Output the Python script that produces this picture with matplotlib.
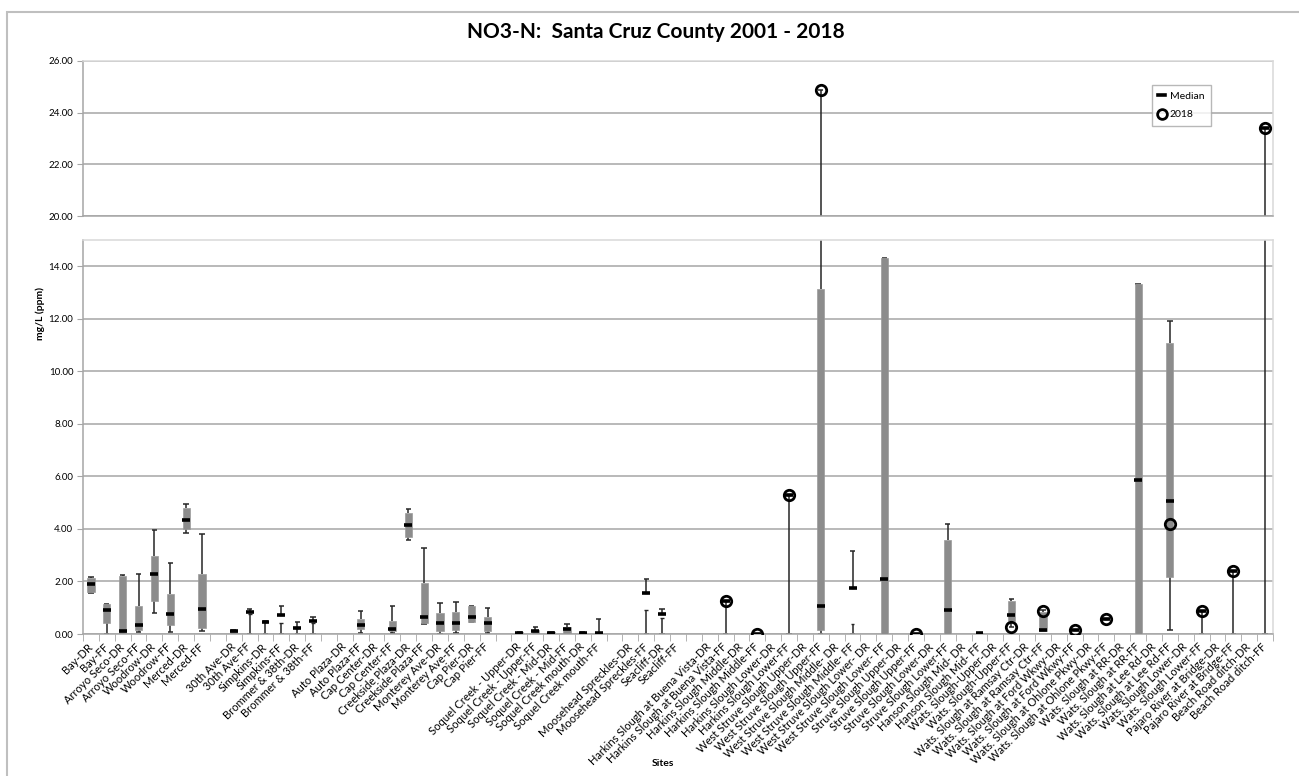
import matplotlib
matplotlib.use('Agg')
import matplotlib.pyplot as plt
import numpy as np
from matplotlib.patches import Rectangle
from matplotlib.lines import Line2D
from matplotlib.ticker import FormatStrFormatter

plt.rcParams['font.family'] = ['Lato', 'DejaVu Sans']

nan = np.nan

sites = ['Bay-DR', 'Bay-FF', 'Arroyo Seco-DR', 'Arroyo Seco-FF', 'Woodrow-DR', 'Woodrow-FF',
         'Merced-DR', 'Merced-FF', '', '30th Ave-DR', '30th Ave-FF', 'Simpkins-DR', 'Simpkins-FF',
         'Brommer & 38th-DR', 'Brommer & 38th-FF', '', 'Auto Plaza-DR', 'Auto Plaza-FF',
         'Cap Center-DR', 'Cap Center-FF', 'Creekside Plaza-DR', 'Creekside Plaza-FF',
         'Monterey Ave-DR', 'Monterey Ave-FF', 'Cap Pier-DR', 'Cap Pier-FF', '',
         'Soquel Creek - Upper-DR', 'Soquel Creek - Upper-FF', 'Soquel Creek - Mid-DR',
         'Soquel Creek - Mid-FF', 'Soquel Creek mouth-DR', 'Soquel Creek mouth-FF', '',
         'Moosehead Spreckles-DR', 'Moosehead Spreckles-FF', 'Seacliff-DR', 'Seacliff-FF', '',
         'Harkins Slough at Buena Vista-DR', 'Harkins Slough at Buena Vista-FF',
         'Harkins Slough Middle-DR', 'Harkins Slough Middle-FF', 'Harkins Slough Lower-DR',
         'Harkins Slough Lower-FF', 'West Struve Slough Upper-DR', 'West Struve Slough Upper-FF',
         'West Struve Slough Middle- DR', 'West Struve Slough Middle- FF',
         'West Struve Slough Lower- DR', 'West Struve Slough Lower- FF',
         'Struve Slough Upper-DR', 'Struve Slough Upper-FF', 'Struve Slough Lower-DR',
         'Struve Slough Lower-FF', 'Hanson Slough Mid- DR', 'Hanson Slough Mid- FF',
         'Wats. Slough-Upper-DR', 'Wats. Slough-Upper-FF', 'Wats. Slough at Ramsay Ctr-DR',
         'Wats. Slough at Ramsay Ctr-FF', 'Wats. Slough at Ford Wkwy-DR',
         'Wats. Slough at Ford Wkwy-FF', 'Wats. Slough at Ohlone Pkwy-DR',
         'Wats. Slough at Ohlone Pkwy-FF', 'Wats. Slough at RR-DR', 'Wats. Slough at RR-FF',
         'Wats. Slough at Lee Rd-DR', 'Wats. Slough at Lee Rd-FF', 'Wats. Slough Lower-DR',
         'Wats. Slough Lower-FF', 'Pajaro River at Bridge-DR', 'Pajaro River at Bridge-FF',
         'Beach Road ditch-DR', 'Beach Road ditch-FF']

# whisker low, quartile 1, median, quartile 3, whisker high, 2018 value (mg/L)
w_lo = [1.57, 0.0, 0.0, 0.08, 0.8, 0.09, 3.85, 0.12, nan, 0.0, 0.0, 0.0, 0.0, 0.0, 0.0, nan,
        nan, 0.02, nan, 0.02, 3.57, 0.38, 0.0, 0.02, 0.45, 0.02, nan,
        0.0, 0.0, 0.0, 0.02, 0.0, 0.0, nan, nan, 0.0, 0.0, nan, nan,
        nan, 0.0, nan, 0.0, nan, 0.0, nan, 0.0, nan, 0.0, nan, 0.0, nan, 0.0, nan, 0.0,
        nan, 0.0, nan, 0.27, nan, 0.12, nan, 0.17, nan, 0.56, nan, 0.0, nan, 0.15,
        nan, 0.0, nan, 0.0, nan, 0.0]
q1 = [1.6, 0.42, 0.03, 0.15, 1.25, 0.35, 4.0, 0.22, nan, 0.05, 0.75, 0.47, 0.41, 0.24, 0.41, nan,
      nan, 0.18, nan, 0.1, 3.7, 0.42, 0.1, 0.14, 0.47, 0.12, nan,
      0.01, 0.03, 0.01, 0.05, 0.01, 0.02, nan, nan, 0.91, 0.6, nan, nan,
      nan, 1.27, nan, 0.01, nan, 5.29, nan, 0.15, nan, 0.38, nan, 0.0, nan, 0.01, nan, 0.0,
      nan, 0.0, nan, 0.5, nan, 0.12, nan, 0.17, nan, 0.56, nan, 0.0, nan, 2.18,
      nan, 0.88, nan, 2.38, nan, 23.39]
med = [1.9, 0.9, 0.1, 0.36, 2.27, 0.75, 4.33, 0.97, nan, 0.12, 0.85, 0.47, 0.73, 0.24, 0.5, nan,
       nan, 0.36, nan, 0.2, 4.14, 0.66, 0.4, 0.42, 0.66, 0.4, nan,
       0.05, 0.1, 0.05, 0.18, 0.05, 0.05, nan, nan, 1.55, 0.78, nan, nan,
       nan, 1.27, nan, 0.01, nan, 5.29, nan, 1.05, nan, 1.77, nan, 2.08, nan, 0.01, nan, 0.92,
       nan, 0.03, nan, 0.73, nan, 0.17, nan, 0.17, nan, 0.56, nan, 5.86, nan, 5.07,
       nan, 0.88, nan, 2.38, nan, 23.39]
q3 = [2.13, 1.13, 2.22, 1.05, 2.97, 1.52, 4.78, 2.29, nan, 0.16, 0.85, 0.47, 0.73, 0.24, 0.5, nan,
      nan, 0.57, nan, 0.5, 4.62, 1.95, 0.8, 0.82, 1.05, 0.66, nan,
      0.08, 0.16, 0.08, 0.27, 0.08, 0.08, nan, nan, 1.55, 0.78, nan, nan,
      nan, 1.27, nan, 0.01, nan, 5.29, nan, 13.15, nan, 1.77, nan, 14.3, nan, 0.01, nan, 3.57,
      nan, 0.05, nan, 1.27, nan, 0.85, nan, 0.17, nan, 0.56, nan, 13.33, nan, 11.06,
      nan, 0.88, nan, 2.38, nan, 23.39]
w_hi = [2.17, 1.16, 2.24, 2.29, 3.97, 2.7, 4.96, 3.8, nan, 0.17, 0.95, 0.48, 1.07, 0.45, 0.64, nan,
        nan, 0.88, nan, 1.07, 4.76, 3.27, 1.18, 1.23, 1.07, 1.0, nan,
        0.09, 0.25, 0.08, 0.37, 0.08, 0.57, nan, nan, 2.1, 0.95, nan, nan,
        nan, 1.27, nan, 0.01, nan, 5.29, nan, 24.88, nan, 3.15, nan, 14.3, nan, 0.01, nan, 4.18,
        nan, 0.05, nan, 1.33, nan, 0.9, nan, 0.17, nan, 0.56, nan, 13.33, nan, 11.9,
        nan, 0.88, nan, 2.38, nan, 23.39]
val_2018 = [nan] * 40 + [1.27, nan, 0.01, nan, 5.29, nan, 24.88, nan, nan, nan, nan, nan, 0.01,
            nan, nan, nan, nan, nan, 0.27, nan, 0.88, nan, 0.17, nan, 0.56, nan, nan, nan, 4.2,
            nan, 0.88, nan, 2.38, nan, 23.39]
# sites whose interquartile box is drawn as a grey bar
has_box = [1, 1, 1, 1, 1, 1, 1, 1, 0, 1, 0, 0, 0, 0, 0, 0,
           0, 1, 0, 1, 1, 1, 1, 1, 1, 1, 0,
           1, 1, 1, 1, 1, 1, 0, 0, 0, 0, 0, 0,
           0, 0, 0, 0, 0, 0, 0, 1, 0, 0, 0, 1, 0, 0, 0, 1,
           0, 1, 0, 1, 0, 1, 0, 0, 0, 0, 0, 1, 0, 1,
           0, 0, 0, 0, 0, 0]

x = np.arange(1, len(sites) + 1)
W, H = 1299, 776
fig = plt.figure(figsize=(W / 100, H / 100), dpi=100)
ax_top = fig.add_axes([83 / W, 1 - 216 / H, 1190 / W, 155 / H])
ax_bot = fig.add_axes([83 / W, 1 - 634 / H, 1190 / W, 394 / H])

box_col = '#8c8c8c'
line_col = '#262626'
grid_col = '#a6a6a6'

def draw(ax):
    for i in range(len(sites)):
        if np.isnan(med[i]):
            continue
        xi = x[i]
        ax.vlines(xi, w_lo[i], q1[i], color=line_col, lw=1.1, zorder=2)
        ax.vlines(xi, q3[i], w_hi[i], color=line_col, lw=1.1, zorder=2)
        ax.hlines([w_lo[i], w_hi[i]], xi - 0.17, xi + 0.17, color=line_col, lw=1.1, zorder=2)
        if has_box[i]:
            ax.bar(xi, q3[i] - q1[i], bottom=q1[i], width=0.45, color=box_col,
                   edgecolor='#9a9a9a', lw=0.5, zorder=3)
        else:
            ax.hlines([q1[i], q3[i]], xi - 0.12, xi + 0.12, color=line_col, lw=1.0, zorder=3)
        ax.hlines(med[i], xi - 0.25, xi + 0.25, color='black', lw=2.6, zorder=4)
    ax.plot(x, val_2018, 'o', ls='none', mfc='none', mec='black', mew=2.0, ms=7.5, zorder=5)
    ax.set_xlim(0.5, len(sites) + 0.5)
    ax.yaxis.grid(True, color=grid_col, lw=1.1)
    ax.set_axisbelow(True)
    ax.yaxis.set_major_formatter(FormatStrFormatter('%.2f'))
    ax.tick_params(axis='y', length=4, color=grid_col, labelsize=7, pad=3)
    for s in ['top', 'right']:
        ax.spines[s].set_color('#d9d9d9')
    for s in ['left', 'bottom']:
        ax.spines[s].set_color(grid_col)
    for s in ax.spines.values():
        s.set_linewidth(1.1)

draw(ax_top)
draw(ax_bot)

ax_top.set_ylim(20, 26)
ax_top.set_yticks([20, 22, 24, 26])
ax_top.set_xticks([])

ax_bot.set_ylim(0, 15)
ax_bot.set_yticks(np.arange(0, 15, 2))
ax_bot.set_xticks(x)
ax_bot.set_xticklabels(sites, rotation=45, ha='right', va='center', rotation_mode='anchor',
                       fontsize=8)
ax_bot.set_xticks(np.arange(0.5, len(sites) + 1, 1), minor=True)
ax_bot.tick_params(axis='x', which='major', length=0, pad=8)
ax_bot.tick_params(axis='x', which='minor', length=5, color=grid_col)

handles = [Line2D([0, 1], [0, 0], color='black', lw=2.6),
           Line2D([], [], ls='none', marker='o', mfc='none', mec='black', mew=2.0, ms=7)]
leg = ax_top.legend(handles, ['Median', '2018'], loc='upper left',
                    bbox_to_anchor=(1147 / W, 1 - 80 / H), bbox_transform=fig.transFigure,
                    fontsize=7.5, frameon=True, fancybox=False, handlelength=0.6,
                    handletextpad=0.5, borderpad=0.6, labelspacing=0.9)
leg.get_frame().set_edgecolor('#a6a6a6')
leg.get_frame().set_linewidth(1.0)

fig.text(656 / W, 1 - 32 / H, 'NO3-N:  Santa Cruz County 2001 - 2018', ha='center', va='center',
         fontsize=15, fontweight='bold')
fig.text(40 / W, 1 - 313 / H, 'mg/L (ppm)', rotation=90, ha='center', va='center',
         fontsize=7.5, fontweight='bold')
fig.text(663 / W, 1 - 763 / H, 'Sites', ha='center', va='center', fontsize=7.5, fontweight='bold')

fig.patches.append(Rectangle((7 / W, -0.1), 1.2, 1.1 - 12 / H, transform=fig.transFigure,
                             fill=False, edgecolor='#bfbfbf', lw=1.5))

fig.savefig('out.png', dpi=100)
